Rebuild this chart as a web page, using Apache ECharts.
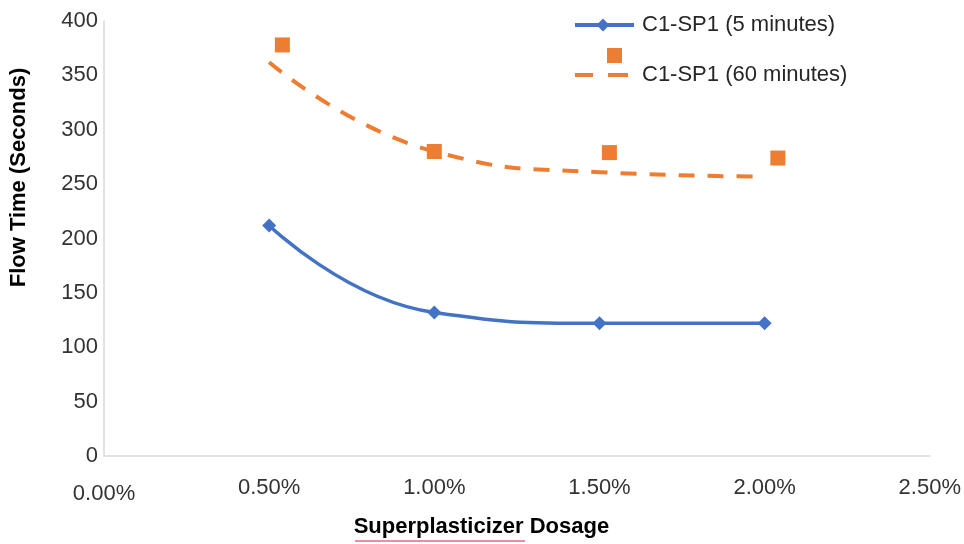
<!DOCTYPE html>
<html>
<head>
<meta charset="utf-8">
<script src="https://cdn.jsdelivr.net/npm/echarts@6/dist/echarts.min.js"></script>
<style>
html,body{margin:0;padding:0;background:#fff;}
#chart{width:964px;height:544px;}
</style>
</head>
<body>
<div id="chart"></div>
<script>
// ---- data ----
const dosage = [0.5, 1.0, 1.5, 2.0];                 // % superplasticizer (5 min series)
const flow5 = [212, 132, 122, 122];                  // C1-SP1 (5 minutes)
const dosage60 = [0.54, 1.00, 1.53, 2.04];           // % (60 min measured points)
const flow60 = [378, 280, 279, 274];                 // C1-SP1 (60 minutes) points
const trendX = [0.5, 1.0, 1.5, 2.0];                 // dashed trend line x
const trend60 = [362, 280, 261, 257];                // dashed trend line values
const xTickValues = [0, 0.5, 1.0, 1.5, 2.0, 2.5];
const xTickLabels = ['0.00%', '0.50%', '1.00%', '1.50%', '2.00%', '2.50%'];
const yTickValues = [0, 50, 100, 150, 200, 250, 300, 350, 400];
const name5 = 'C1-SP1 (5 minutes)';
const name60 = 'C1-SP1 (60 minutes)';

const FONT = '"Liberation Sans", Arial, sans-serif';
const BLUE = '#4472C4';
const ORANGE = '#ED7D31';

const pairs = (xs, ys) => xs.map((x, i) => [x, ys[i]]);

const chart = echarts.init(document.getElementById('chart'), null, {renderer: 'canvas'});
chart.setOption({
  animation: false,
  backgroundColor: '#ffffff',
  textStyle: {fontFamily: FONT},
  grid: {left: 103, right: 34, top: 21, bottom: 88, containLabel: false},
  legend: [
    {
      data: [{name: name5,
        icon: 'path://M0,4.5 L59,4.5 L59,8.5 L0,8.5 Z M28,0 L34.5,6.5 L28,13 L21.5,6.5 Z'}],
      orient: 'vertical',
      left: 575, top: 14, padding: 0,
      itemWidth: 59, itemHeight: 13,
      itemStyle: {borderWidth: 0, color: BLUE},
      textStyle: {fontFamily: FONT, fontSize: 22, color: '#262626', padding: [0, 0, 0, 3]},
      selectedMode: false
    },
    {
      // square marker above dashed trend line; the icon box is extended downward
      // so the label sits level with the dashes, as in the reference legend
      data: [{name: name60,
        icon: 'path://M32,0 L47,0 L47,15 L32,15 Z M0,25 L18,25 L18,29 L0,29 Z M33,25 L53,25 L53,29 L33,29 Z M26,53.95 L26.05,53.95 L26.05,54 L26,54 Z'}],
      orient: 'vertical',
      left: 575, top: 48, padding: 0,
      itemWidth: 53, itemHeight: 54,
      itemStyle: {borderWidth: 0, color: ORANGE},
      textStyle: {fontFamily: FONT, fontSize: 22, color: '#262626', padding: [0, 0, 0, 9]},
      selectedMode: false
    }
  ],
  xAxis: {
    type: 'value',
    min: 0, max: 2.5, interval: 0.5,
    name: 'Superplasticizer Dosage',
    nameLocation: 'middle',
    nameGap: 60,
    nameTextStyle: {fontFamily: FONT, fontSize: 22, fontWeight: 'bold', color: '#000', padding: [0, 71, 0, 0]},
    axisLine: {show: true, lineStyle: {color: '#d9d9d9', width: 1.5}},
    axisTick: {show: false},
    splitLine: {show: false},
    axisLabel: {
      fontFamily: FONT, fontSize: 22, color: '#333', margin: 21,
      formatter: function (v) {
        const i = xTickValues.findIndex(t => Math.abs(t - v) < 1e-9);
        const s = i >= 0 ? xTickLabels[i] : '';
        return i === 0 ? '{z|' + s + '}' : s;
      },
      rich: {z: {fontFamily: FONT, fontSize: 22, color: '#333', padding: [6, 0, 0, 0]}}
    }
  },
  yAxis: {
    type: 'value',
    min: 0, max: 400, interval: 50,
    name: 'Flow Time (Seconds)',
    nameLocation: 'middle',
    nameRotate: 90,
    nameGap: 74,
    nameTextStyle: {fontFamily: FONT, fontSize: 22, fontWeight: 'bold', color: '#000', padding: [0, 0, 0, 122]},
    axisLine: {show: true, lineStyle: {color: '#d9d9d9', width: 1.5}},
    axisTick: {show: false},
    splitLine: {show: false},
    axisLabel: {fontFamily: FONT, fontSize: 22, color: '#333', margin: 6,
      formatter: v => (yTickValues.indexOf(v) >= 0 ? String(v) : '')}
  },
  graphic: [
    {type: 'line', shape: {x1: 355, y1: 541, x2: 525, y2: 541},
     style: {stroke: '#e8668a', lineWidth: 1.5}, silent: true}
  ],
  series: [
    {
      name: name5,
      type: 'line',
      data: pairs(dosage, flow5),
      smooth: 0.5,
      symbol: 'diamond',
      symbolSize: 14,
      showSymbol: true,
      itemStyle: {color: BLUE, opacity: 1},
      lineStyle: {color: BLUE, width: 3.5},
      z: 3
    },
    {
      name: name60,
      type: 'line',
      data: pairs(trendX, trend60),
      smooth: 0.5,
      symbol: 'none',
      showSymbol: false,
      itemStyle: {color: ORANGE},
      lineStyle: {color: ORANGE, width: 4, type: [16, 13], cap: 'butt'},
      z: 2
    },
    {
      name: name60,
      type: 'scatter',
      data: pairs(dosage60, flow60),
      symbol: 'rect',
      symbolSize: 15,
      itemStyle: {color: ORANGE, opacity: 1},
      z: 4
    }
  ]
});
</script>
</body>
</html>
